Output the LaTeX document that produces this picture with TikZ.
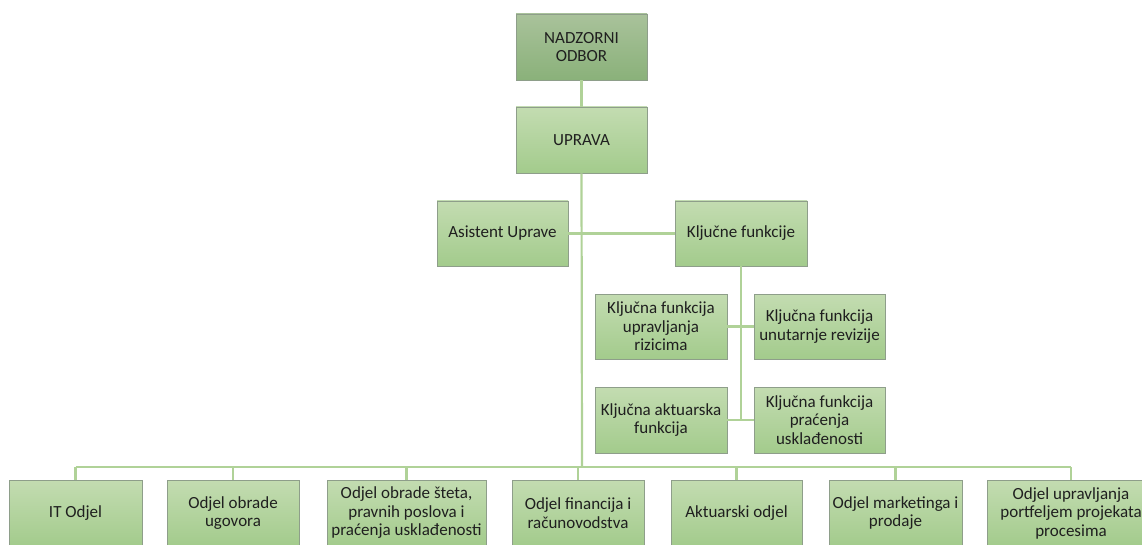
\documentclass[tikz,border=0pt]{standalone}
\usepackage{fontspec}
\setmainfont{Carlito}
\usepackage{tikz}
\usetikzlibrary{arrows,positioning}
\usepackage{xcolor}
\definecolor{boxtop}{HTML}{C3DCB1}
\definecolor{boxbot}{HTML}{A3CB8C}
\definecolor{headtop}{HTML}{A9C29B}
\definecolor{headbot}{HTML}{8AB17A}
\definecolor{boxline}{HTML}{8E9E8A}
\definecolor{linkgreen}{HTML}{B0D298}

\begin{document}
\begin{tikzpicture}[x=1pt,y=1pt,
  orgbox/.style={rectangle,draw=boxline,line width=0.8pt,top color=boxtop,bottom color=boxbot,
    minimum width=131pt,minimum height=65pt,align=center,inner sep=2pt,
    font=\fontsize{17}{18.5}\selectfont,text=black!88},
  headbox/.style={orgbox,top color=headtop,bottom color=headbot},
  link/.style={draw=linkgreen,line width=2.2pt}]
\useasboundingbox (0,0) rectangle (1142,-545);
% \draw[help lines] (0,0) grid[step=50] (1142,-545);
\node (nadzor) [headbox,minimum height=66pt] at (581.5,-47) {NADZORNI\\ODBOR};
\node (uprava) [orgbox,minimum height=66pt] at (581.5,-140) {UPRAVA};
\node (asist) [orgbox] at (502.5,-233.5) {Asistent Uprave};
\node (kljuc) [orgbox,minimum width=132pt] at (741,-233.5) {Ključne funkcije};
\node (rizik) [orgbox,minimum width=132pt] at (661,-326.5) {Ključna funkcija\\upravljanja\\rizicima};
\node (reviz) [orgbox] at (819.5,-326.5) {Ključna funkcija\\unutarnje revizije};
\node (aktu) [orgbox,minimum width=132pt,minimum height=66pt] at (661,-420) {Ključna aktuarska\\funkcija};
\node (uskl) [orgbox,minimum height=66pt] at (819.5,-420) {Ključna funkcija\\praćenja\\usklađenosti};
%
\node (it) [orgbox,minimum width=133pt,minimum height=66pt] at (75.5,-513) {IT Odjel};
\node (ugov) [orgbox,minimum width=132pt,minimum height=66pt] at (233,-513) {Odjel obrade\\ugovora};
\node (steta) [orgbox,minimum width=159pt,minimum height=66pt] at (406.5,-513) {Odjel obrade šteta,\\pravnih poslova i\\praćenja usklađenosti};
\node (fin) [orgbox,minimum width=132pt,minimum height=66pt] at (578,-513) {Odjel financija i\\računovodstva};
\node (aktodj) [orgbox,minimum height=66pt] at (736.5,-513) {Aktuarski odjel};
\node (mark) [orgbox,minimum width=133pt,minimum height=66pt] at (895.5,-513) {Odjel marketinga i\\prodaje};
\node (portf) [orgbox,minimum width=168pt,minimum height=66pt] at (1071,-513) {Odjel upravljanja\\portfeljem projekata\\procesima};
%
\coordinate (bus) at (582,-467);
\path[link] (nadzor) -- (uprava);
\path[link] (uprava.south) -- (bus);
\path[link] (asist.east) -- (kljuc.west);
\path[link] (kljuc.south) -- (kljuc.south |- aktu.east);
\path[link] (rizik.east) -- (reviz.west);
\path[link] (aktu.east) -- (uskl.west);
\path[link] (it.north |- bus) -- (portf.north |- bus);
\foreach \n in {it,ugov,steta,fin,aktodj,mark,portf}
  \path[link] (\n.north |- bus) -- (\n.north);
\end{tikzpicture}
\end{document}
